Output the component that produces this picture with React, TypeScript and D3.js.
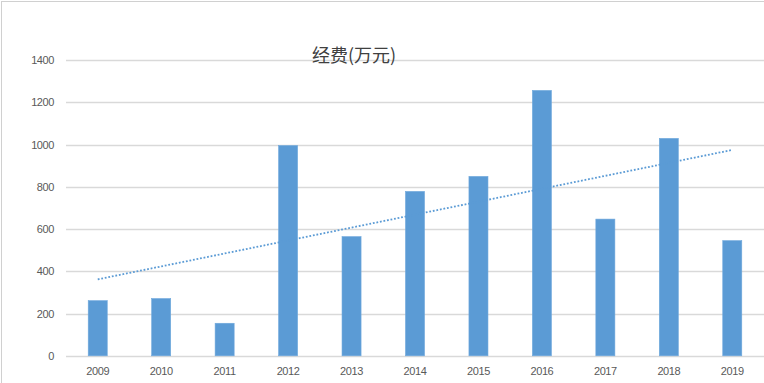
import React from "react";
import * as d3 from "d3";

const categories = ["2009", "2010", "2011", "2012", "2013", "2014", "2015", "2016", "2017", "2018", "2019"];
const values = [261, 271, 154, 995, 564, 778, 849, 1256, 647, 1029, 545];
const yTicks = [0, 200, 400, 600, 800, 1000, 1200, 1400];
const title = "经费(万元)";

export default function App() {
  const W = 764, H = 383;
  const m = { left: 66, right: 0, top: 60, bottom: 27 };
  const x = d3.scaleBand<string>().domain(categories).range([m.left, W - m.right]).paddingInner(0.7).paddingOuter(0.35);
  const y = d3.scaleLinear().domain([0, 1400]).range([H - m.bottom - 0.2, m.top]);

  // linear trendline (least squares)
  const n = values.length;
  const xs = d3.range(n);
  const mx = d3.mean(xs)!;
  const my = d3.mean(values)!;
  const slope = d3.sum(xs, (i) => (i - mx) * (values[i] - my)) / d3.sum(xs, (i) => (i - mx) * (i - mx));
  const icpt = my - slope * mx;
  const cx = (i: number) => x(categories[i])! + x.bandwidth() / 2;
  const trend = d3.line<number>().x((i) => cx(i)).y((i) => y(icpt + slope * i));

  const font = "'Liberation Sans', Arial, sans-serif";
  return (
    <svg width={W} height={H} style={{ position: "absolute", left: 0, top: 0 }}>
      <rect x={0} y={0} width={W} height={H} fill="#fff" />
      <rect x={1.5} y={1.5} width={W + 10} height={H + 10} fill="none" stroke="#d0d0d0" strokeWidth={1} />
      {yTicks.map((t) => (
        <g key={t}>
          <line x1={m.left} x2={W} y1={Math.round(y(t)) + 0.5} y2={Math.round(y(t)) + 0.5} stroke="#d9d9d9" strokeWidth={1.3} />
          <text x={54} y={y(t) + 4} textAnchor="end" fontSize={11} fill="#595959" fontFamily={font} letterSpacing={-0.4}>
            {t}
          </text>
        </g>
      ))}
      {values.map((v, i) => (
        <rect
          key={categories[i]}
          x={x(categories[i])}
          y={y(v)}
          width={x.bandwidth()}
          height={y(0) - y(v)}
          fill="#5b9bd5"
          stroke="#6fa8dc"
          strokeWidth={0.6}
        />
      ))}
      <path d={trend(xs)!} fill="none" stroke="#5b9bd5" strokeWidth={1.8} strokeDasharray="1.8 1.8" />
      {categories.map((c, i) => (
        <text key={c} x={cx(i)} y={375} textAnchor="middle" fontSize={11} fill="#595959" fontFamily={font} letterSpacing={-0.4}>
          {c}
        </text>
      ))}
      <text x={354} y={62} textAnchor="middle" fontSize={18} fill="#404040" fontFamily="'Noto Sans CJK SC', sans-serif">
        {title}
      </text>
    </svg>
  );
}
